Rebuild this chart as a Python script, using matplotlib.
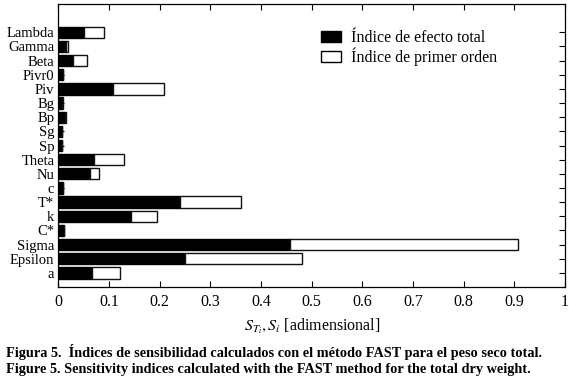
import matplotlib
matplotlib.use("Agg")
import matplotlib.pyplot as plt
import numpy as np
from matplotlib.patches import Patch

plt.rcParams['font.family'] = 'Liberation Serif'
plt.rcParams['mathtext.fontset'] = 'stix'

# parameters, top to bottom as in the figure
params = ['Lambda', 'Gamma', 'Beta', 'Pivr0', 'Piv', 'Bg', 'Bp', 'Sg', 'Sp',
          'Theta', 'Nu', 'c', 'T*', 'k', 'C*', 'Sigma', 'Epsilon', 'a']
total_idx = [0.050, 0.014, 0.029, 0.0095, 0.108, 0.007, 0.013, 0.006, 0.006,
             0.0695, 0.062, 0.0095, 0.2405, 0.1425, 0.0115, 0.457, 0.250, 0.0655]
first_idx = [0.040, 0.004, 0.027, 0.0, 0.101, 0.001, 0.0025, 0.0005, 0.0005,
             0.0605, 0.0186, 0.0, 0.1205, 0.0515, 0.0, 0.4496, 0.231, 0.0567]
xticks = [0, 0.1, 0.2, 0.3, 0.4, 0.5, 0.6, 0.7, 0.8, 0.9, 1]
xticklabels = ['0', '0.1', '0.2', '0.3', '0.4', '0.5', '0.6', '0.7', '0.8', '0.9', '1']

fig = plt.figure(figsize=(5.69, 3.81), dpi=100)
ax = fig.add_axes([0.1028, 0.2467, 0.8902, 0.7428])

y_pos = np.arange(len(params))[::-1]  # first item at the top
ax.barh(y_pos, total_idx, height=0.8, color='black', edgecolor='black', linewidth=1.0)
ax.barh(y_pos, first_idx, left=total_idx, height=0.8, color='white',
        edgecolor='#111111', linewidth=1.0)

ax.set_yticks(y_pos)
ax.set_yticklabels(params, fontsize=10.5)
ax.set_xticks(xticks)
ax.set_xticklabels(xticklabels, fontsize=11.5)
ax.set_xlim(0, 1)
ax.set_ylim(-1, 19)
ax.tick_params(direction='in', top=True, right=True, length=4, width=0.8, pad=3)
ax.tick_params(axis='x', pad=5)
for s in ax.spines.values():
    s.set_linewidth(0.9)

ax.set_xlabel(r'$S_{T_i}, S_i$ [adimensional]', fontsize=11.5, labelpad=5)

handles = [Patch(facecolor='black', edgecolor='black', label='Índice de efecto total'),
           Patch(facecolor='white', edgecolor='black', label='Índice de primer orden')]
ax.legend(handles=handles, loc='upper left', bbox_to_anchor=(0.49, 0.96), frameon=False,
          fontsize=11.5, handlelength=1.25, handleheight=0.7, labelspacing=0.1,
          handletextpad=0.6)

fig.text(0.01, 0.076, 'Figura 5.  Índices de sensibilidad calculados con el método FAST para el peso seco total.',
         fontsize=10.3, fontweight='bold', va='center')
fig.text(0.01, 0.031, 'Figure 5. Sensitivity indices calculated with the FAST method for the total dry weight.',
         fontsize=10.3, fontweight='bold', va='center')

fig.savefig('out.png', dpi=100)
